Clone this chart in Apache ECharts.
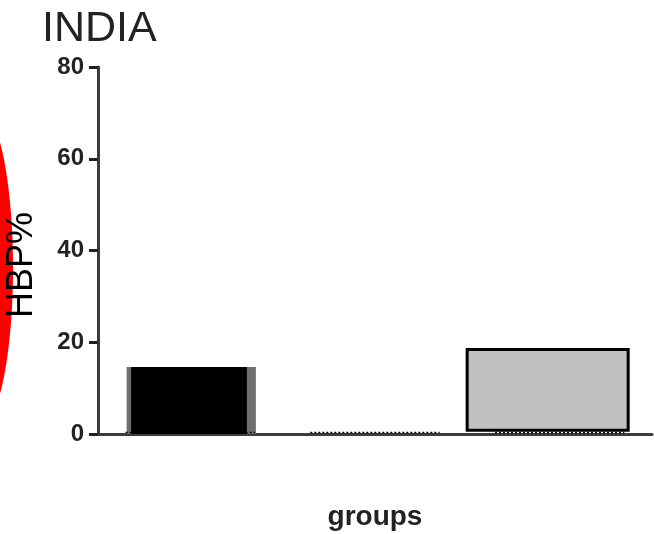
<!DOCTYPE html>
<html>
<head>
<meta charset="utf-8">
<style>html,body{margin:0;padding:0;background:#fff;}#c{width:654px;height:534px;}</style>
<script src="https://cdn.jsdelivr.net/npm/echarts@6/dist/echarts.min.js"></script>
</head>
<body>
<div id="c"></div>
<script>
// ---- data ----
const categories = ['Group 1', 'Group 2', 'Group 3'];
const hbpValues = [14.6, 0, 18.4];   // bar tops (HBP %)
const hbpBase = [0, 0, 0.8];         // bar bottoms (HBP %)
const yTicks = [0, 20, 40, 60, 80];
const yAxisTitle = 'HBP%';
const xAxisTitle = 'groups';
const chartTitle = 'INDIA';

// ---- styles (not data) ----
const barLook = [
  { fill: '#000000', edge: '#6f6f6f', width: 0.70, shift: 0.005, insetL: 4.5, insetR: 9, stroke: null },
  { fill: null, edge: null, width: 0.70, shift: 0, insetL: 0, insetR: 0, stroke: null },
  { fill: '#c0c0c0', edge: null, width: 0.872, shift: -0.065, insetL: 0, insetR: 0, stroke: '#000000' }
];

const chart = echarts.init(document.getElementById('c'));
const seriesData = categories.map((c, i) => [i, hbpValues[i], hbpBase[i]]);

chart.setOption({
  animation: false,
  title: {
    text: chartTitle, left: 37, top: 3,
    textStyle: { fontFamily: 'Liberation Sans', fontSize: 43, fontWeight: 'normal', color: '#222' }
  },
  grid: { left: 98, right: 2, top: 67, bottom: 100, containLabel: false, outerBoundsMode: 'none' },
  xAxis: {
    type: 'category', data: categories,
    name: xAxisTitle, nameLocation: 'middle', nameGap: 69,
    nameTextStyle: { fontFamily: 'Liberation Sans', fontSize: 28, fontWeight: 'bold', color: '#222' },
    axisLine: { lineStyle: { color: '#3c3c3c', width: 3 } },
    axisTick: { alignWithLabel: true, length: 11, lineStyle: { color: '#222', width: 3 } },
    axisLabel: { show: false }
  },
  yAxis: {
    type: 'value', min: yTicks[0], max: yTicks[yTicks.length - 1], interval: yTicks[1] - yTicks[0],
    axisLine: { show: true, lineStyle: { color: '#3c3c3c', width: 3 } },
    axisTick: { show: true, length: 9, lineStyle: { color: '#222', width: 3 } },
    axisLabel: { margin: 14, fontFamily: 'Liberation Sans', fontSize: 24, fontWeight: 'bold', color: '#222' },
    splitLine: { show: false }
  },
  graphic: [{
    type: 'ellipse', z: -1,
    shape: { cx: -21, cy: 268, rx: 34, ry: 160 },
    style: { fill: '#ff0000' }
  }, {
    type: 'text', z: 5,
    x: 22, y: 265, rotation: Math.PI / 2,
    style: {
      text: yAxisTitle, fontFamily: 'Liberation Sans', fontSize: 36, fill: '#000',
      align: 'center', verticalAlign: 'middle'
    }
  }],
  series: [{
    type: 'custom',
    data: seriesData,
    encode: { x: 0, y: 1 },
    renderItem: function (params, api) {
      const i = api.value(0);
      const look = barLook[i];
      const band = api.size([1, 0])[0];
      const center = api.coord([i, 0])[0];
      const zeroY = api.coord([i, 0])[1];
      const topY = api.coord([i, api.value(1)])[1];
      const botY = api.coord([i, api.value(2)])[1];
      const children = [];
      // dotted zero-level mark centred on the tick
      const dw = band * 0.70;
      children.push({
        type: 'line', z2: 5,
        shape: { x1: center - dw / 2, y1: zeroY - 1.5, x2: center + dw / 2, y2: zeroY - 1.5 },
        style: { stroke: '#000', lineWidth: 1.5, lineDash: [2, 2] }
      });
      if (look.fill && api.value(1) > 0) {
        const w = band * look.width;
        const x0 = center + band * look.shift - w / 2;
        if (look.edge) {
          children.push({ type: 'rect', shape: { x: x0, y: topY, width: w, height: botY - topY },
            style: { fill: look.edge } });
          children.push({ type: 'rect', shape: { x: x0 + look.insetL, y: topY, width: w - look.insetL - look.insetR, height: botY - topY },
            style: { fill: look.fill } });
        } else {
          children.push({ type: 'rect', z2: 10, shape: { x: x0, y: topY, width: w, height: botY - topY },
            style: { fill: look.fill, stroke: look.stroke, lineWidth: 3 } });
        }
      }
      return { type: 'group', children: children };
    }
  }]
});
</script>
</body>
</html>
